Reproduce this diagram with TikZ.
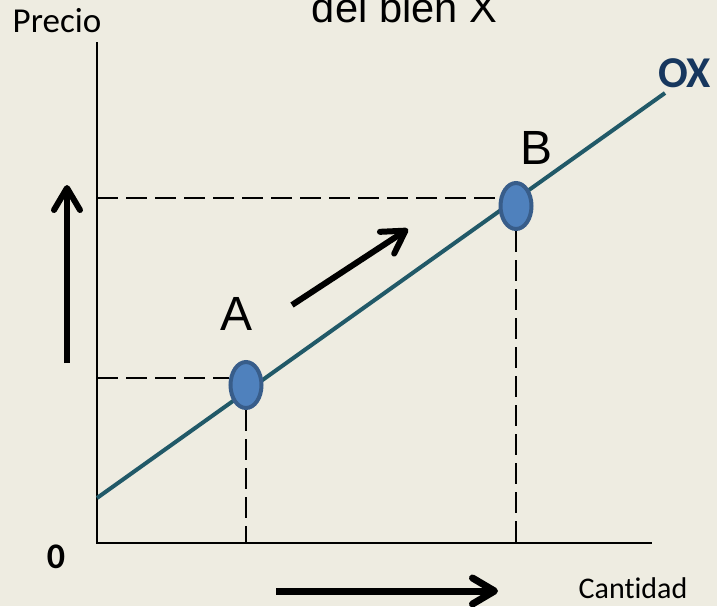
\documentclass[tikz,border=0pt]{standalone}
\usepackage{fontspec}
\setmainfont{Carlito}[Ligatures=NoCommon]
\newfontfamily\arialf{Liberation Sans}
\usetikzlibrary{arrows.meta,shapes.geometric,calc}
\definecolor{bg}{HTML}{EEECE1}
\definecolor{supply}{HTML}{215968}
\definecolor{oxblue}{HTML}{17375E}
\definecolor{ptfill}{HTML}{4F81BD}
\definecolor{ptdraw}{HTML}{385D8A}
\begin{document}
\begin{tikzpicture}[x=1pt,y=-1pt,
  axis/.style={line width=2pt,black},
  guide/.style={line width=2.5pt,dash pattern=on 21pt off 8pt,black},
  curve/.style={line width=4pt,supply},
  pt/.style={ellipse,draw=ptdraw,fill=ptfill,line width=4pt,minimum width=31pt,minimum height=46pt,inner sep=0pt},
  movearrow/.style={line width=6pt,-{Straight Barb[length=22pt,width=26pt,line cap=round,line join=round]}},
  lbl/.style={inner sep=0pt,anchor=base},
]
\fill[bg] (0,0) rectangle (717,606);
\useasboundingbox (0,0) rectangle (717,606);
\clip (0,0) rectangle (717,606);

% axes
\coordinate (O) at (97,543);
\coordinate (ytop) at (97,42);
\coordinate (xend) at (652,543);
\draw[axis] (ytop) -- (O) -- (xend);

% supply line
\coordinate (s0) at (97,498);
\coordinate (s1) at (665,93);
\draw[curve] (s0) -- (s1);

% points
\node[pt] (A) at (246,385) {};
\node[pt] (B) at (516,206) {};

% guides
\draw[guide] (O |- 0,378) -- ($(A.west)+(0,-7)$);
\draw[guide] (A.south) -- (A.south |- O);
\draw[guide] (O |- 0,198) -- ($(B.west)+(0,-8)$);
\draw[guide] (B.south) -- (B.south |- O);

% movement arrows
\coordinate (u0) at (67,363); \coordinate (u1) at (67,185);
\coordinate (d0) at (292,305); \coordinate (d1) at (408,229);
\coordinate (h0) at (276,591); \coordinate (h1) at (498,591);
\draw[movearrow] (u0) -- (u1);
\draw[movearrow] (d0) -- (d1);
\draw[movearrow,line width=7pt] (h0) -- (h1);

% labels
\node[lbl,font=\fontsize{35}{40}\selectfont] (precio) at (57,32) {Precio};
\node[lbl,font=\arialf\fontsize{41.6}{48}\selectfont] (title) at (404.5,22) {del bien X};
\node[lbl,font=\bfseries\fontsize{44}{50}\selectfont,text=oxblue] (ox) at (684.5,87) {OX};
\node[lbl,font=\arialf\fontsize{48}{56}\selectfont] (la) at (237,330) {A};
\node[lbl,font=\arialf\fontsize{48}{56}\selectfont] (lb) at (536.5,164) {B};
\node[lbl,font=\bfseries\fontsize{36}{40}\selectfont] (zero) at (56,568) {0};
\node[lbl,font=\fontsize{30}{34}\selectfont] (cant) at (633,598) {Cantidad};
\end{tikzpicture}
\end{document}
